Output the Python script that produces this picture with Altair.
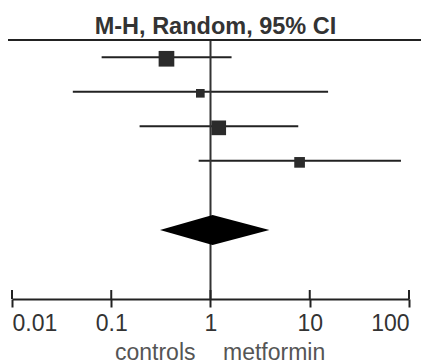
import altair as alt
import pandas as pd

# ---- data ----
rows = [1, 2, 3, 4]
or_est = [0.36, 0.79, 1.21, 7.9]
ci_low = [0.080, 0.041, 0.193, 0.76]
ci_high = [1.63, 15.3, 7.66, 83.0]
weights = [37.8, 11.5, 33.2, 17.5]

pooled_row = 6
pooled_est = 1.05
pooled_low = 0.31
pooled_high = 3.92

tick_values = [0.01, 0.1, 1, 10, 100]
title_text = "M-H, Random, 95% CI"
left_label = "controls"
right_label = "metformin"

# ---- layout / style ----
W, H = 397, 259
FONT = "Liberation Sans"
DARK = "#222222"
half = 0.434  # diamond half-height in row units

xs = alt.Scale(type="log", domain=[0.01, 100], nice=False)
ys = alt.Scale(domain=[0.5, 8], reverse=True, nice=False, zero=False)
xaxis = alt.Axis(values=tick_values, format="~g", title=None, grid=False,
                 domainColor=DARK, domainWidth=2, tickColor=DARK, tickWidth=2,
                 tickSize=8, labelFontSize=23, labelFont=FONT, labelColor="#333333",
                 labelFlush=True, labelPadding=5, labelOverlap=False)

studies = pd.DataFrame({"row": rows, "est": or_est, "low": ci_low,
                        "high": ci_high, "w": weights})
diamond = pd.DataFrame({
    "x": [pooled_low, pooled_est, pooled_high],
    "y1": [pooled_row, pooled_row - half, pooled_row],
    "y2": [pooled_row, pooled_row + half, pooled_row],
})
ticks = pd.DataFrame({"x": tick_values})
one = pd.DataFrame({"x": [1], "title": [title_text],
                    "left": [left_label], "right": [right_label]})

ci = alt.Chart(studies).mark_rule(strokeWidth=2, color=DARK).encode(
    x=alt.X("low:Q", scale=xs, axis=xaxis, title=None),
    x2="high:Q",
    y=alt.Y("row:Q", scale=ys, axis=None),
)

squares = alt.Chart(studies).mark_square(opacity=1, color="#2b2b2b", yOffset=1.5).encode(
    x=alt.X("est:Q", scale=xs, axis=xaxis, title=None),
    y=alt.Y("row:Q", scale=ys, axis=None),
    size=alt.Size("w:Q", scale=alt.Scale(domain=[0, 100], range=[0, 650]), legend=None),
)

dia = alt.Chart(diamond).mark_area(orient="vertical", color="black").encode(
    x=alt.X("x:Q", scale=xs, axis=xaxis, title=None),
    y=alt.Y("y1:Q", scale=ys, axis=None),
    y2="y2:Q",
)

vline = alt.Chart(one).mark_rule(strokeWidth=2, color="#333333").encode(
    x=alt.X("x:Q", scale=xs, axis=xaxis, title=None),
    y=alt.value(0), y2=alt.value(H),
)

upticks = alt.Chart(ticks).mark_rule(strokeWidth=2, color=DARK).encode(
    x=alt.X("x:Q", scale=xs, axis=xaxis, title=None),
    y=alt.value(H - 9), y2=alt.value(H),
)

topline = alt.Chart(one).mark_rule(strokeWidth=2, color=DARK).encode(
    x=alt.value(-4), x2=alt.value(W + 12), y=alt.value(0),
)

title = alt.Chart(one).mark_text(dx=5, fontSize=23.5, fontWeight="bold", font=FONT,
                                 color="#333333", baseline="alphabetic", align="center").encode(
    x=alt.X("x:Q", scale=xs, axis=xaxis, title=None),
    y=alt.value(-6), text="title:N",
)

lt = alt.Chart(one).mark_text(dx=-15, fontSize=23, font=FONT, color="#555555",
                              baseline="alphabetic", align="right").encode(
    x=alt.X("x:Q", scale=xs, axis=xaxis, title=None),
    y=alt.value(320), text="left:N",
)
rt = alt.Chart(one).mark_text(dx=12.5, fontSize=23, font=FONT, color="#555555",
                              baseline="alphabetic", align="left").encode(
    x=alt.X("x:Q", scale=xs, axis=xaxis, title=None),
    y=alt.value(320), text="right:N",
)

chart = alt.layer(ci, vline, upticks, topline, squares, dia, title, lt, rt).properties(
    width=W, height=H,
    padding={"left": 4, "top": 32, "right": 12, "bottom": 65},
    autosize="none",
).configure_view(stroke=None)

chart.save("out.html", embed_options={"renderer": "svg", "actions": False})
